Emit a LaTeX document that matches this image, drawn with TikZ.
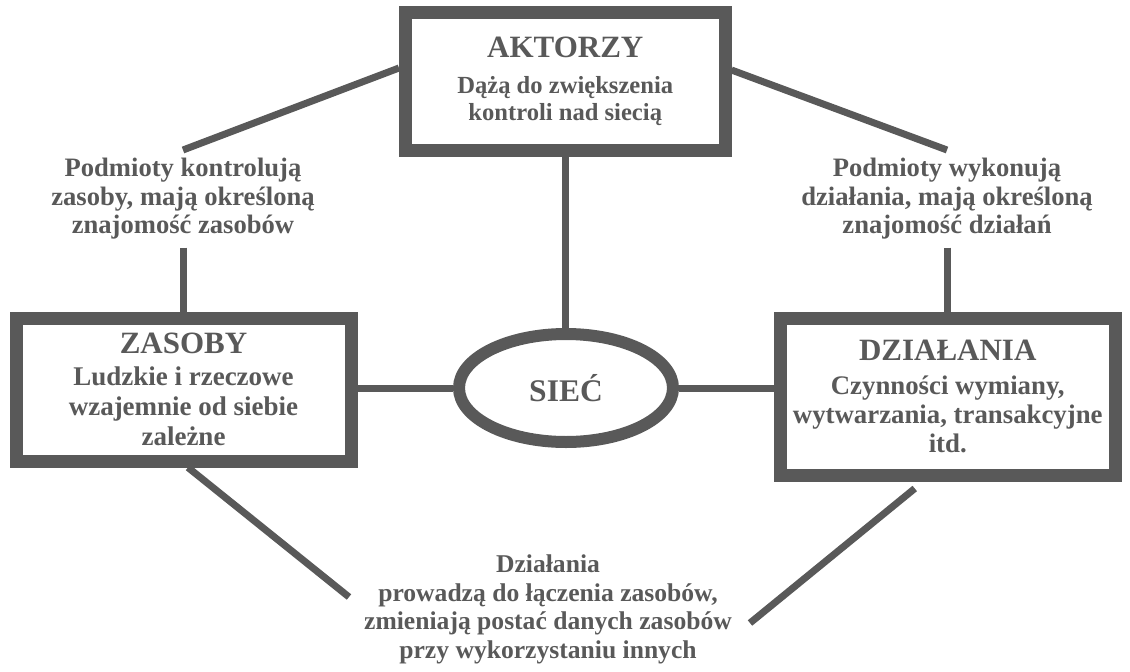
\documentclass[tikz,border=0pt]{standalone}
\usepackage{fontspec}
\setmainfont{Liberation Serif}
\usetikzlibrary{shapes.geometric}
\definecolor{ink}{HTML}{595959}
\newcommand\boxtitle[1]{{\fontsize{31}{31}\selectfont #1}}

\begin{document}
\begin{tikzpicture}[x=1pt,y=-1pt,
  box/.style={draw=ink, line width=13pt, fill=white, align=center,
    inner sep=0pt, text=ink},
  hub/.style={ellipse, draw=ink, line width=12pt, fill=white, inner sep=0pt,
    text=ink, minimum width=214pt, minimum height=108pt,
    font=\bfseries\fontsize{31.5}{34}\selectfont},
  conn/.style={draw=ink, line width=7pt},
  note/.style={align=center, inner sep=8pt, text=ink, anchor=north,
    font=\bfseries\fontsize{26.6}{28.5}\selectfont},
]
\useasboundingbox (0,0) rectangle (1130,672);

% the three boxes and the central ellipse
\node[box, minimum width=319.5pt, minimum height=138pt,
  font=\bfseries\fontsize{24.6}{27}\selectfont] (akt) at (565.25,81.5)
  {\boxtitle{AKTORZY}\\[9pt]Dążą do zwiększenia\\kontroli nad siecią};
\node[box, minimum width=335pt, minimum height=143pt,
  font=\bfseries\fontsize{27}{30}\selectfont] (zas) at (183.5,389.5)
  {\boxtitle{ZASOBY}\\[2pt]Ludzkie i rzeczowe\\wzajemnie od siebie\\zależne};
\node[box, minimum width=335.5pt, minimum height=157pt,
  font=\bfseries\fontsize{26.8}{29}\selectfont] (dzi) at (947.75,396.5)
  {\boxtitle{DZIAŁANIA}\\[5pt]Czynności wymiany,\\wytwarzania, transakcyjne\\itd.};
\node[hub] (siec) at (566,388) {SIEĆ};

% relation labels
\node[note] (lblL) at (183,150)
  {Podmioty kontrolują\\zasoby, mają określoną\\znajomość zasobów};
\node[note] (lblR) at (947,150)
  {Podmioty wykonują\\działania, mają określoną\\znajomość działań};
\node[note, font=\bfseries\fontsize{25.6}{28.5}\selectfont] (lblB) at (548,547)
  {Działania\\prowadzą do łączenia zasobów,\\zmieniają postać danych zasobów\\przy wykorzystaniu innych};

\coordinate (endBL) at (349,597);
\coordinate (endBR) at (750,623);

% connectors
\draw[conn] ([yshift=13.5pt]akt.west) -- (lblL.north);
\draw[conn] (lblL.south) -- (lblL.south |- zas.north);
\draw[conn] ([yshift=11.5pt]akt.east) -- (lblR.north);
\draw[conn] (lblR.south) -- (lblR.south |- dzi.north);
\draw[conn] (akt.south) -- (akt.south |- siec.north);
\draw[conn] (siec.west) -- (siec.west -| zas.east);
\draw[conn] (siec.east) -- (siec.east -| dzi.west);
\draw[conn] ([xshift=4.5pt]zas.south) -- (endBL);
\draw[conn] ([xshift=-33pt,yshift=-7pt]dzi.south) -- (endBR);
\end{tikzpicture}
\end{document}
